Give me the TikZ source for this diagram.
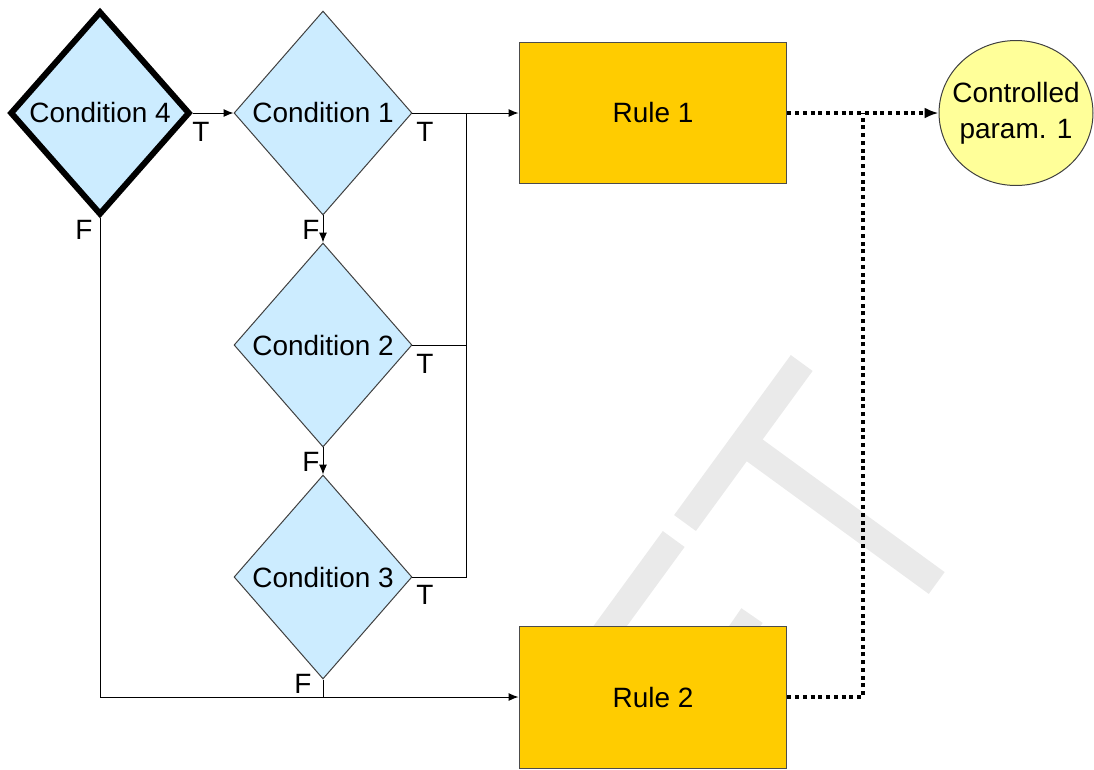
\documentclass[tikz,border=0pt]{standalone}
\usepackage{fontspec}
\setmainfont{Liberation Sans}
\usetikzlibrary{shapes.geometric,arrows.meta}
\definecolor{condblue}{HTML}{CCECFF}
\definecolor{rulegold}{HTML}{FFCC00}
\definecolor{paramyellow}{HTML}{FFFF99}
\definecolor{markgray}{HTML}{EAEAEA}
\begin{document}
\begin{tikzpicture}[x=0.02cm,y=-0.02cm,
    font=\fontsize{15.9}{20.4}\selectfont,
    cond/.style={diamond,aspect=1,draw=black!75,line width=0.02cm,fill=condblue,
      inner sep=0pt,minimum width=3.56cm,minimum height=4.08cm},
    rulebox/.style={rectangle,draw=black!70,line width=0.02cm,fill=rulegold,
      minimum width=5.36cm,minimum height=2.84cm},
    param/.style={ellipse,draw=black!75,line width=0.02cm,fill=paramyellow,
      inner xsep=-0.19cm,inner ysep=0pt,minimum width=3.08cm,minimum height=2.9cm,align=center},
    tf/.style={inner sep=0pt},
    flow/.style={line width=0.02cm,-{Latex[length=0.2cm,width=0.16cm]}},
    wire/.style={line width=0.02cm},
    dotwire/.style={line width=0.08cm,dash pattern=on 0.08cm off 0.075cm},
    watermark/.style={line width=0.54cm,markgray}]
  \useasboundingbox (0,0) rectangle (1094,769);
  \draw[watermark] (801.7,363) -- (685,523);
  \draw[watermark] (743.8,442.4) -- (936.7,583);
  \draw[watermark] (673.7,539) -- (600,640);
  \draw[watermark] (733.7,619.3) -- (755,634);
  \draw
    (100,113) node[cond,draw=black,line width=0.12cm,minimum width=3.6cm] (c4){Condition 4}
    (323,113) node[cond] (c1){Condition 1}
    (323,345) node[cond] (c2){Condition 2}
    (323,577) node[cond] (c3){Condition 3}
    (653,113) node[rulebox] (r1){Rule 1}
    (653,697) node[rulebox] (r2){Rule 2}
    (1016,113) node[param] (p1){Controlled\\param. 1};
  \draw
    (201,132) node[tf] (t4){T}
    (84,230) node[tf] (f4){F}
    (425,132) node[tf] (t1){T}
    (311,230) node[tf] (f1){F}
    (425,364) node[tf] (t2){T}
    (311,462) node[tf] (f2){F}
    (425,595) node[tf] (t3){T}
    (303,684) node[tf] (f3){F};
  \coordinate (j1) at (466,113);
  \coordinate (j2) at (466,346);
  \coordinate (j4) at (863,113);
  \begin{scope}[flow]
    \draw (c4.east) to (c1.west);
    \draw (c1.east) to (r1.west);
    \draw (c1.south) to (c2.north);
    \draw (c2.south) to (c3.north);
    \draw (c4.south) |- (r2.west);
  \end{scope}
  \begin{scope}[wire]
    \draw (c2.east) -| (j1);
    \draw (c3.east) -| (j2);
    \draw (c3.south) -- (c3.south |- r2.west);
  \end{scope}
  \draw[dotwire,-{Latex[length=0.28cm,width=0.22cm]}] (r1.east) -- (p1.west);
  \draw[dotwire] (r2.east) -| (j4);
\end{tikzpicture}
\end{document}
